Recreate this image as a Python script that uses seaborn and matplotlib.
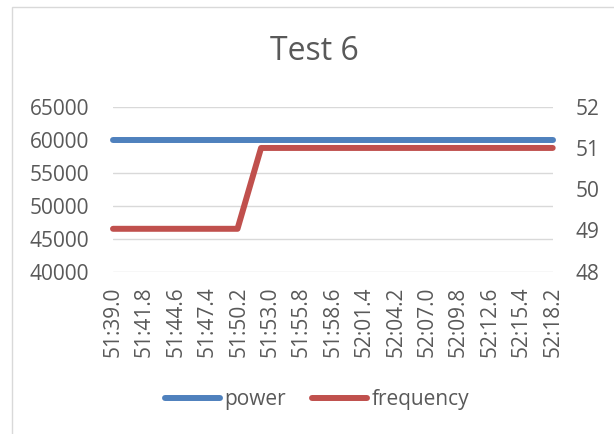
import matplotlib
matplotlib.use("Agg")
import matplotlib.pyplot as plt
import seaborn as sns
import pandas as pd
from matplotlib.patches import Rectangle
from matplotlib.lines import Line2D

# time axis: seconds after 51:00
tick_labels = ['51:39.0', '51:41.8', '51:44.6', '51:47.4', '51:50.2', '51:53.0',
               '51:55.8', '51:58.6', '52:01.4', '52:04.2', '52:07.0', '52:09.8',
               '52:12.6', '52:15.4', '52:18.2']

power_t = [39.0, 78.2]
power_v = [60000, 60000]

freq_t = [39.0, 50.1, 52.2, 78.2]
freq_v = [49.04, 49.04, 51.0, 51.0]


def to_sec(lbl):
    m, s = lbl.split(':')
    return (int(m) - 51) * 60 + float(s)


tick_pos = [to_sec(l) for l in tick_labels]

sns.set_theme(style='white')
plt.rcParams['font.family'] = ['Open Sans', 'DejaVu Sans']
grey = '#595959'
blue = '#4F81BD'
red = '#C0504D'

fig = plt.figure(figsize=(6.14, 4.34), dpi=100)
fig.patches.append(Rectangle((12.3 / 614, -0.1), 1.2, 1.1 - 7.3 / 434,
                             transform=fig.transFigure, fill=False,
                             edgecolor='#D9D9D9', linewidth=1.0))

ax = fig.add_axes([113 / 614, 1 - 271.7 / 434, 439.7 / 614, 165 / 434])
ax2 = ax.twinx()

df_p = pd.DataFrame({'t': power_t, 'v': power_v})
df_f = pd.DataFrame({'t': freq_t, 'v': freq_v})

sns.lineplot(data=df_p, x='t', y='v', ax=ax, color=blue, linewidth=4.3,
             solid_capstyle='round', solid_joinstyle='round', clip_on=False)
sns.lineplot(data=df_f, x='t', y='v', ax=ax2, color=red, linewidth=4.3,
             solid_capstyle='round', solid_joinstyle='round', clip_on=False)

ax.set_xlim(tick_pos[0], tick_pos[-1])
ax.set_ylim(40000, 65000)
ax.set_yticks(range(40000, 65001, 5000))
ax2.set_ylim(48, 52)
ax2.set_yticks([48, 49, 50, 51, 52])

ax.set_xticks(tick_pos)
ax.set_xticklabels(tick_labels, rotation=90)
ax.grid(axis='y', color='#D9D9D9', linewidth=1.0)
ax.set_axisbelow(True)
ax.set_zorder(0)
ax2.set_zorder(1)

for a in (ax, ax2):
    a.set_xlabel('')
    a.set_ylabel('')
    for s in a.spines.values():
        s.set_visible(False)
ax.tick_params(axis='x', length=0, pad=10.5, labelsize=15, labelcolor=grey)
ax.tick_params(axis='y', length=0, pad=17, labelsize=15, labelcolor=grey)
ax2.tick_params(axis='y', length=0, pad=16.5, labelsize=15, labelcolor=grey)

fig.text(314 / 614, 1 - 51 / 434, 'Test 6', ha='center', va='center',
         fontsize=23, color=grey)

handles = [Line2D([], [], color=blue, linewidth=4.3, solid_capstyle='round'),
           Line2D([], [], color=red, linewidth=4.3, solid_capstyle='round')]
fig.legend(handles, ['power', 'frequency'], loc='center',
           bbox_to_anchor=(317 / 614, 1 - 400 / 434), ncol=2, frameon=False,
           fontsize=15, labelcolor=grey, handlelength=2.65, handletextpad=0.2,
           columnspacing=1.25)

fig.savefig('out.png', dpi=100)
